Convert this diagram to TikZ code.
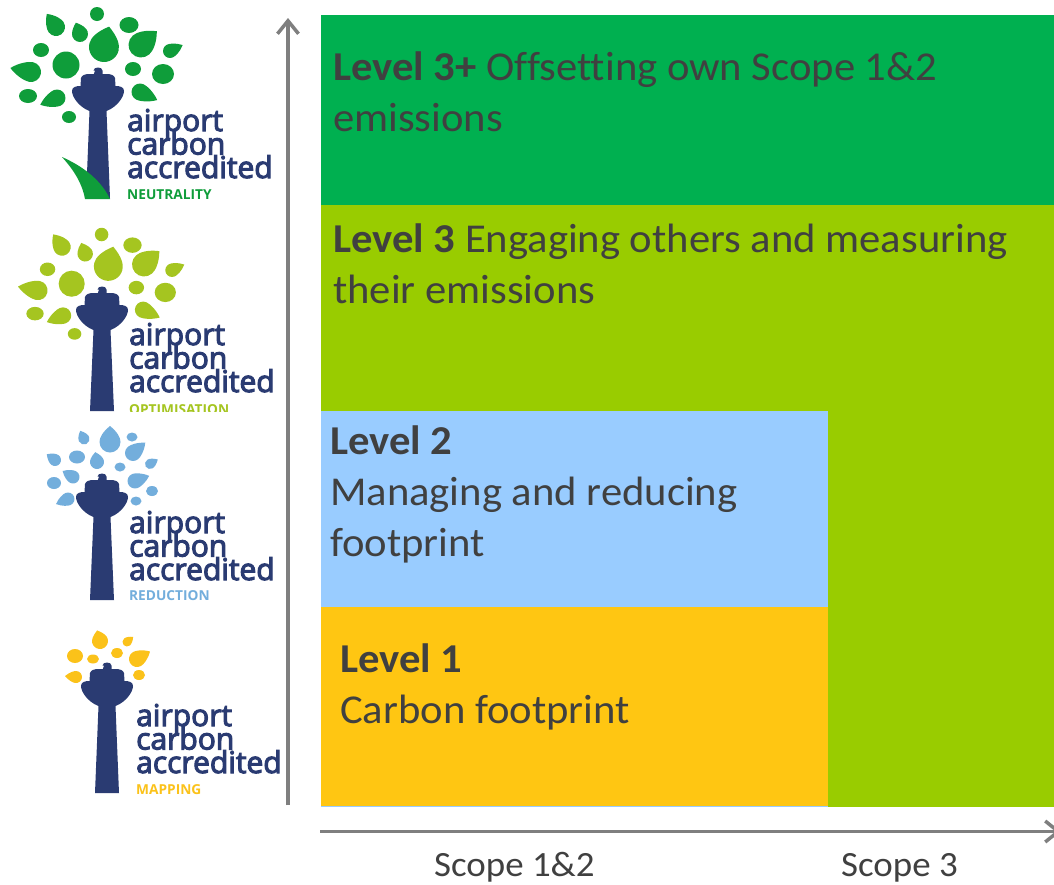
\documentclass[tikz,border=0pt]{standalone}
\usepackage{fontspec}
\setmainfont[Ligatures=NoCommon,FakeStretch=1.04]{Carlito}
\newfontfamily\logofont[FakeBold=3.5]{Open Sans}
\newfontfamily\logosubfont{Open Sans}
\usetikzlibrary{arrows.meta}
\normallineskiplimit=-30pt
\lineskiplimit=-30pt
\definecolor{txt}{HTML}{404040}
\definecolor{axisgray}{HTML}{7F7F7F}
\definecolor{navy}{HTML}{2A3B72}
\definecolor{cneut}{HTML}{0F9D3A}
\definecolor{copt}{HTML}{A5C520}
\definecolor{cred}{HTML}{73AEDC}
\definecolor{cmap}{HTML}{FBC21A}
\definecolor{bandA}{HTML}{00B050}
\definecolor{bandB}{HTML}{99CC00}
\definecolor{bandC}{HTML}{99CCFF}
\definecolor{bandD}{HTML}{FFC612}
\newcommand{\drop}[5]{% cx cy angle r L
  \fill[shift={(#1,#2)},rotate=#3]
    (#5,0) .. controls ({0.62*#5},{0.72*#4}) and ({0.4*#4},{#4}) .. (0,{#4})
    .. controls ({-0.55*#4},{#4}) and ({-#4},{0.55*#4}) .. ({-#4},0)
    .. controls ({-#4},{-0.55*#4}) and ({-0.55*#4},{-#4}) .. (0,{-#4})
    .. controls ({0.4*#4},{-#4}) and ({0.62*#5},{-0.72*#4}) .. (#5,0) -- cycle;}
\newcommand{\blob}[4]{\fill (#1,#2) ellipse[x radius=#3pt,y radius=#4pt];}
\newcommand{\tower}[3]{% x of axis, y of knob top, y of bottom
  \fill[navy,shift={(#1,#2)}] (-3,3.5) -- (-4.5,3.5) .. controls (-4.5,-0.5) and (4.5,-0.5) .. (4.5,3.5) -- (4.5,8) -- (-4.5,8) -- cycle;
  \fill[navy,shift={(#1,#2)}] (-8,7) -- (8,7) .. controls (13,7) and (16,8) .. (17,11)
    -- (17.5,19) .. controls (22,19) and (26,20) .. (26,24)
    .. controls (26,30) and (19,40) .. (8.5,44)
    -- (12,{#3-#2}) -- (-12,{#3-#2}) -- (-8.5,44)
    .. controls (-19,40) and (-26,30) .. (-26,24)
    .. controls (-26,20) and (-22,19) .. (-17.5,19)
    -- (-17,11) .. controls (-16,8) and (-13,7) .. (-8,7) -- cycle;}
\newcommand{\crownfull}{%
  \drop{56}{27}{125}{9}{16}\drop{80}{34}{110}{8}{12}\drop{104}{47}{76}{15}{21}
  \drop{141}{45}{41}{12.5}{21}\drop{170}{51}{25}{7}{14}\drop{31}{72}{169}{10}{21}
  \drop{140}{92}{-25}{8.5}{19}\drop{57}{98}{202}{8.5}{18}
  \blob{97}{14}{7}{7}\blob{129}{25}{9.5}{8}\blob{41}{50}{8}{7}\blob{66}{65}{13.5}{13.5}
  \blob{133}{69}{8}{7}\blob{163}{74}{11}{10}\blob{28}{96}{9}{7}\blob{69}{117}{7}{6}}
\tikzset{
  lvl/.style={anchor=base west,inner sep=0pt,text=txt,font=\fontsize{41}{51}\selectfont,align=left},
  scopelabel/.style={anchor=base west,inner sep=0pt,text=txt,font=\fontsize{35.5}{40}\selectfont},
  logoword/.style={anchor=base west,inner sep=0pt,text=navy,align=left,font=\logofont\fontsize{30}{23.5}\selectfont},
  logosub/.style={anchor=base west,inner sep=0pt,font=\logosubfont\fontsize{13.7}{15}\selectfont\bfseries},
  axis/.style={draw=axisgray,line width=3.5pt,-{Straight Barb[length=13pt,width=21pt,line width=3.5pt]}}
}
\begin{document}
\begin{tikzpicture}[x=1pt,y=-1pt]
\useasboundingbox (0,0) rectangle (1054,884);
\fill[white] (0,0) rectangle (1054,884);
% bands
\fill[bandB] (321,205) rectangle (1054,806.5);
\fill[bandA] (321,15) rectangle (1054,205);
\fill[bandC] (321,411) rectangle (828,607);
\fill[bandC] (321,805) rectangle (828,806.5);
\fill[bandD] (321,607) rectangle (828,805.5);
% band text
\node[lvl] (t3p) at (333,131) {\textbf{Level 3+} Offsetting own Scope 1\&2\\emissions};
\node[lvl] (t3) at (333,303) {\textbf{Level 3} Engaging others and measuring\\their emissions};
\node[lvl] (t2) at (330,556) {\textbf{Level 2}\\Managing and reducing\\footprint};
\node[lvl] (t1) at (340,723) {\textbf{Level 1}\\Carbon footprint};
\node[scopelabel] (s12) at (434,876) {Scope 1\&2};
\node[scopelabel] (s3) at (841,876) {Scope 3};
% axes
\coordinate (vstart) at (288,805);
\coordinate (vend) at (288,18);
\coordinate (hstart) at (320,831.5);
\coordinate (hend) at (1061,831.5);
\draw[axis] (vstart) -- (vend);
\draw[axis] (hstart) -- (hend);
% logo 1: neutrality
\begin{scope}[cneut]
\crownfull
\end{scope}
\tower{98}{67}{198.5}
\fill[cneut] (62,157) .. controls (80,165) and (100,178) .. (110,199) -- (85,199) .. controls (82,182) and (72,168) .. (62,157) -- cycle;
\node[logoword] (a1) at (127,178) {airport\\carbon\\accredited};
\node[logosub,text=cneut] (d1) at (127,199) {NEUTRALITY};
% logo 2: optimisation
\begin{scope}[copt,shift={(8,221)},scale=.965]
\crownfull
\end{scope}
\tower{102}{286}{411}
\node[logoword] (a2) at (129,392) {airport\\carbon\\accredited};
\begin{scope}
\clip (100,400) rectangle (280,411);
\node[logosub,text=copt] (d2) at (129,414) {OPTIMISATION};
\end{scope}
% logo 3: reduction
\begin{scope}[cred]
\drop{110}{442}{90}{10.5}{16}\drop{84}{439}{115}{5.5}{9}\drop{133}{453}{40}{8}{16}
\drop{55}{460}{145}{6}{10}\drop{97}{462}{100}{7}{10}\drop{150}{464}{30}{5}{9}
\drop{73}{477}{150}{6.5}{12}\drop{135}{481}{20}{7.5}{15}\drop{68}{499}{203}{6.5}{13}
\blob{132}{437}{5.5}{4.5}\blob{77}{457}{8}{6.5}\blob{120}{467}{5.5}{4.5}
\blob{54}{483}{7}{6}\blob{152}{491}{6}{5}\blob{136}{501}{5.5}{4.5}
\end{scope}
\tower{102}{473}{600}
\node[logoword] (a3) at (129,580) {airport\\carbon\\accredited};
\node[logosub,text=cred] (d3) at (129,600) {REDUCTION};
% logo 4: mapping
\begin{scope}[cmap]
\drop{100}{641}{105}{8}{11}\drop{127}{642}{40}{4.5}{8}\drop{137}{659}{30}{8}{15}\drop{76}{677}{175}{6}{11}
\blob{75}{656}{8}{7}\blob{93}{659}{6}{4.5}\blob{117}{653}{6}{5}\blob{139}{675}{6}{5}
\end{scope}
\tower{107}{662}{793}
\node[logoword] (a4) at (136,773) {airport\\carbon\\accredited};
\node[logosub,text=cmap] (d4) at (136,794) {MAPPING};
\end{tikzpicture}
\end{document}
